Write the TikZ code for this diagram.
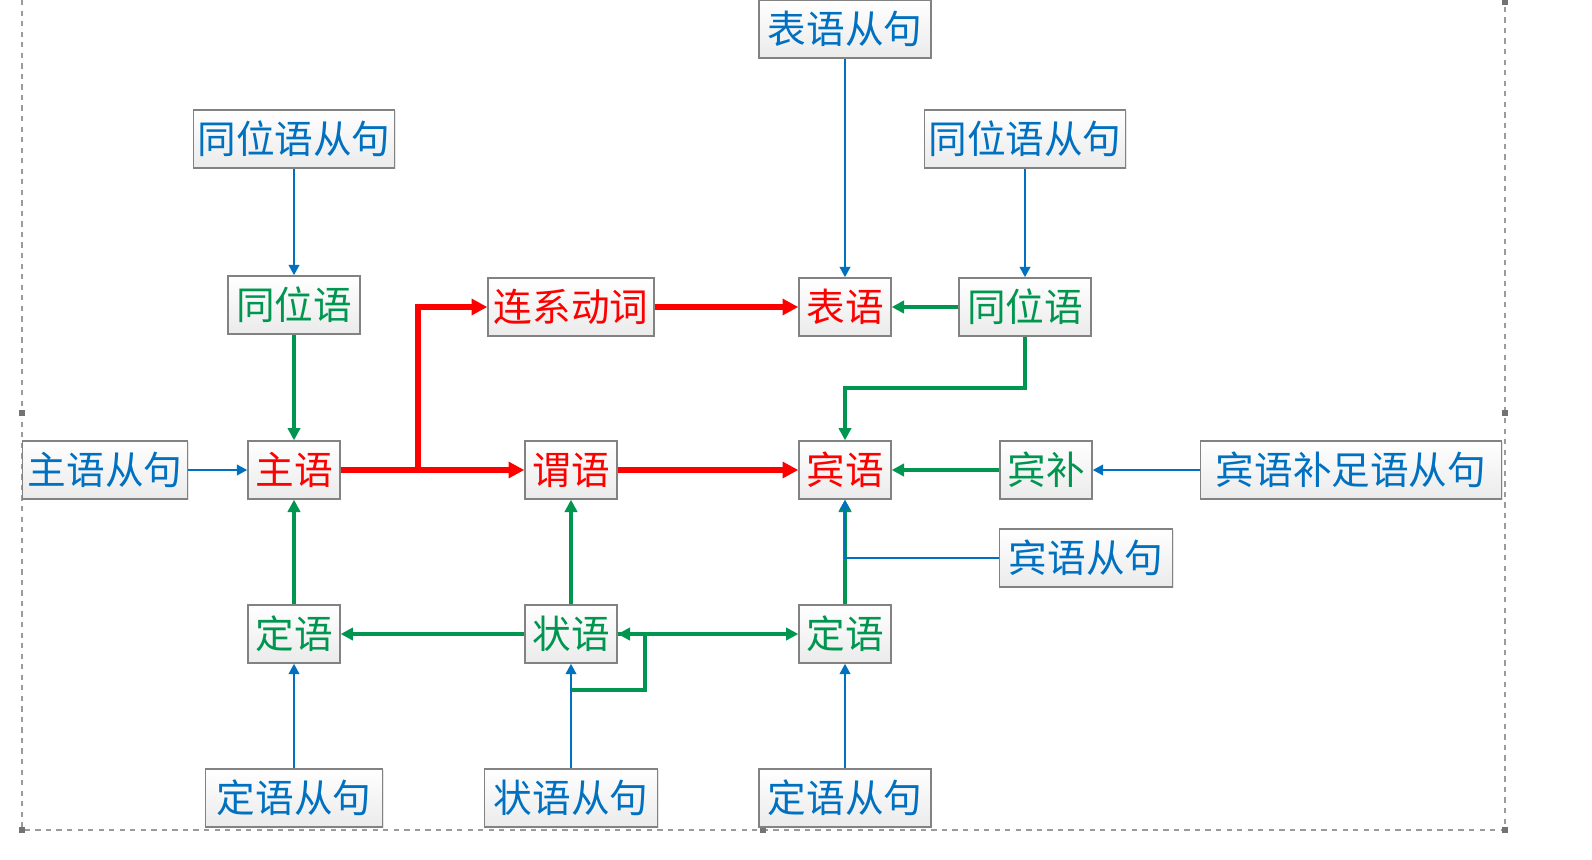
\documentclass[tikz,border=0pt]{standalone}
\usepackage{fontspec}
\newfontfamily\cjk{Noto Sans CJK SC}
\usetikzlibrary{arrows.meta,shadows}
\definecolor{cblue}{RGB}{0,112,192}
\definecolor{cgreen}{RGB}{0,150,80}
\definecolor{cred}{RGB}{255,0,0}
\definecolor{cframe}{RGB}{130,130,130}
\tikzset{
 box/.style={draw=cframe, line width=0.8pt, top color=white, bottom color=black!8, inner sep=0pt,
   minimum height=1.16cm, font=\cjk\fontsize{22}{22}\selectfont,
   drop shadow={opacity=0.2, shadow xshift=0.6pt, shadow yshift=-0.6pt}},
 bt/.style={box, text=cblue},
 gt/.style={box, text=cgreen},
 rt/.style={box, text=cred},
 barr/.style={draw=cblue, line width=1.4pt, -{Triangle[length=6pt,width=6pt]}},
 garr/.style={draw=cgreen, line width=2pt, -{Triangle[length=7pt,width=7pt]}},
 rarr/.style={draw=cred, line width=3.2pt, -{Triangle[length=9pt,width=9pt]}},
 handle/.style={fill=black!55, minimum size=3pt, inner sep=0pt},
}
\begin{document}
\begin{tikzpicture}[x=0.02cm,y=-0.02cm]
\useasboundingbox (0,0) rectangle (1592,859);
% canvas frame
\draw[cframe!80, dashed, line width=0.6pt] (22,0) -- (22,830) -- (1505,830) -- (1505,0);
\node[handle] (h1) at (22,413) {};
\node[handle] (h2) at (1505,413) {};
\node[handle] (h3) at (22,830) {};
\node[handle] (h4) at (1505,830) {};
\node[handle] (h5) at (763,830) {};
\node[handle] (h6) at (1505,2) {};
% nodes
\node[bt, minimum width=3.44cm] (bycj) at (845,29) {表语从句};
\node[bt, minimum width=4.02cm] (twcjL) at (294,139) {同位语从句};
\node[bt, minimum width=4.02cm] (twcjR) at (1025,139) {同位语从句};
\node[gt, minimum width=2.64cm] (twL) at (294,305) {同位语};
\node[rt, minimum width=3.32cm] (lxdc) at (571,307) {连系动词};
\node[rt, minimum width=1.84cm] (by) at (845,307) {表语};
\node[gt, minimum width=2.64cm] (twR) at (1025,307) {同位语};
\node[bt, minimum width=3.30cm] (zycj) at (105,470) {主语从句};
\node[rt, minimum width=1.84cm] (zy) at (294,470) {主语};
\node[rt, minimum width=1.84cm] (wy) at (571,470) {谓语};
\node[rt, minimum width=1.84cm] (bin) at (845,470) {宾语};
\node[gt, minimum width=1.84cm] (bb) at (1046,470) {宾补};
\node[bt, minimum width=6.02cm] (bbcj) at (1351,470) {宾语补足语从句};
\node[bt, minimum width=3.46cm] (bycjO) at (1086,558) {宾语从句};
\node[gt, minimum width=1.84cm] (dyL) at (294,634) {定语};
\node[gt, minimum width=1.84cm] (zhy) at (571,634) {状语};
\node[gt, minimum width=1.84cm] (dyR) at (845,634) {定语};
\node[bt, minimum width=3.54cm] (dycjL) at (294,798) {定语从句};
\node[bt, minimum width=3.46cm] (zhycj) at (571,798) {状语从句};
\node[bt, minimum width=3.44cm] (dycjR) at (845,798) {定语从句};
% blue connectors from clauses
\draw[barr] (bycj) -- (by);
\draw[barr] (twcjL) -- (twL);
\draw[barr] (twcjR) -- (twR);
\draw[barr] (zycj) -- (zy);
\draw[barr] (bbcj) -- (bb);
% green connectors
\draw[garr] (twL) -- (zy);
\draw[garr] (twR) -- (by);
\coordinate (k1) at (1025,388);
\draw[garr] (twR.south) -- (k1) -| (bin.north);
\draw[garr] (bb) -- (bin);
\draw[garr] (dyR) -- (bin);
\draw[garr] (dyL) -- (zy);
\draw[garr] (zhy) -- (wy);
\draw[garr] (zhy) -- (dyL);
\draw[garr] (zhy) -- (dyR);
\coordinate (l1) at (571,690);
\coordinate (l2) at (645,690);
\draw[garr] (l1) -- (l2) |- (zhy.east);
% red connectors
\coordinate (br) at (418,470);
\draw[rarr] (zy) -- (wy);
\draw[rarr] (br) |- (lxdc);
\draw[rarr] (lxdc) -- (by);
\draw[rarr] (wy) -- (bin);
% blue connectors on top
\draw[barr] (bycjO.west) -| (bin.south);
\draw[barr] (dycjL) -- (dyL);
\draw[barr] (zhycj) -- (zhy);
\draw[barr] (dycjR) -- (dyR);
\end{tikzpicture}
\end{document}
